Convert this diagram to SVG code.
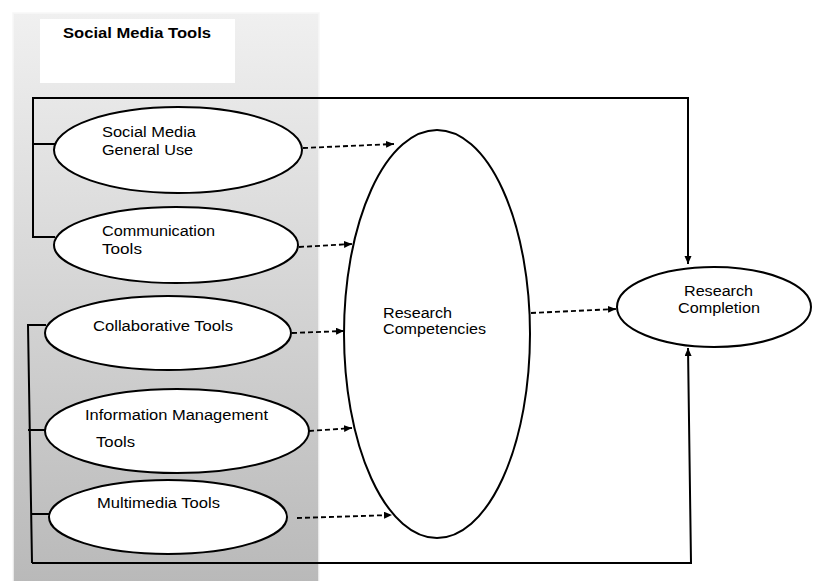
<svg xmlns="http://www.w3.org/2000/svg" width="814" height="581" viewBox="0 0 814 581">
<defs>
<linearGradient id="panelGrad" x1="0" y1="0" x2="0" y2="1">
<stop offset="0" stop-color="#f0f0f0"/>
<stop offset="1" stop-color="#b8b8b8"/>
</linearGradient>
<marker id="arrow" markerUnits="userSpaceOnUse" markerWidth="9" markerHeight="8" refX="8" refY="3.5" orient="auto">
<path d="M0,0 L8,3.5 L0,7 z" fill="#000"/>
</marker>
</defs>
<style>
text{font-family:"Liberation Sans",Arial,sans-serif;font-size:14px;fill:#000}
.title{font-weight:bold}
.node ellipse{fill:#fff;stroke:#000;stroke-width:2}
.line{fill:none;stroke:#000;stroke-width:2}
.dash{fill:none;stroke:#000;stroke-width:1.8;stroke-dasharray:5,3;marker-end:url(#arrow)}
.solid{marker-end:url(#arrow)}
</style>
<rect width="814" height="581" fill="#fff"/>
<g id="panel">
<rect x="13" y="13" width="306" height="580" fill="url(#panelGrad)" stroke="#f7f7f7" stroke-width="1.5"/>
<rect x="40" y="19" width="195" height="64" fill="#fff"/>
<text class="title" x="63" y="38" textLength="148" lengthAdjust="spacingAndGlyphs">Social Media Tools</text>
</g>
<g id="connectors">
<path class="line solid" d="M55,237 H33 V98 H688 V264"/>
<path class="line" d="M33,144 H55"/>
<path class="line" d="M46,325 H28 L32,563"/>
<path class="line" d="M28,430 H46"/>
<path class="line" d="M31,514 H50"/>
<path class="line solid" d="M32,563 H691 L688,348"/>
<path class="dash" d="M303,148 L394,144"/>
<path class="dash" d="M299,247 L352,244"/>
<path class="dash" d="M292,333 L344,331"/>
<path class="dash" d="M309,431 L352,428"/>
<path class="dash" d="M297,518 L392,515"/>
<path class="dash" d="M531,313 L616,309"/>
</g>
<g id="node-general-use" class="node">
<ellipse cx="178" cy="150" rx="124" ry="43"/>
<text x="102" y="137" textLength="94" lengthAdjust="spacingAndGlyphs">Social Media</text>
<text x="102" y="155" textLength="91" lengthAdjust="spacingAndGlyphs">General Use</text>
</g>
<g id="node-communication" class="node">
<ellipse cx="176" cy="245" rx="122" ry="38"/>
<text x="102" y="236" textLength="113" lengthAdjust="spacingAndGlyphs">Communication</text>
<text x="102" y="254" textLength="40" lengthAdjust="spacingAndGlyphs">Tools</text>
</g>
<g id="node-collaborative" class="node">
<ellipse cx="168" cy="333" rx="123" ry="37"/>
<text x="93" y="331" textLength="140" lengthAdjust="spacingAndGlyphs">Collaborative Tools</text>
</g>
<g id="node-information" class="node">
<ellipse cx="177" cy="431" rx="132" ry="42"/>
<text x="85" y="420" textLength="183" lengthAdjust="spacingAndGlyphs">Information Management</text>
<text x="96" y="447" textLength="39" lengthAdjust="spacingAndGlyphs">Tools</text>
</g>
<g id="node-multimedia" class="node">
<ellipse cx="168" cy="517" rx="119" ry="37"/>
<text x="97" y="508" textLength="123" lengthAdjust="spacingAndGlyphs">Multimedia Tools</text>
</g>
<g id="node-competencies" class="node">
<ellipse cx="437" cy="334" rx="93" ry="204"/>
<text x="383" y="318" textLength="69" lengthAdjust="spacingAndGlyphs">Research</text>
<text x="383" y="334" textLength="103" lengthAdjust="spacingAndGlyphs">Competencies</text>
</g>
<g id="node-completion" class="node">
<ellipse cx="714" cy="307" rx="97" ry="40"/>
<text x="684" y="296" textLength="69" lengthAdjust="spacingAndGlyphs">Research</text>
<text x="678" y="313" textLength="82" lengthAdjust="spacingAndGlyphs">Completion</text>
</g>
</svg>
